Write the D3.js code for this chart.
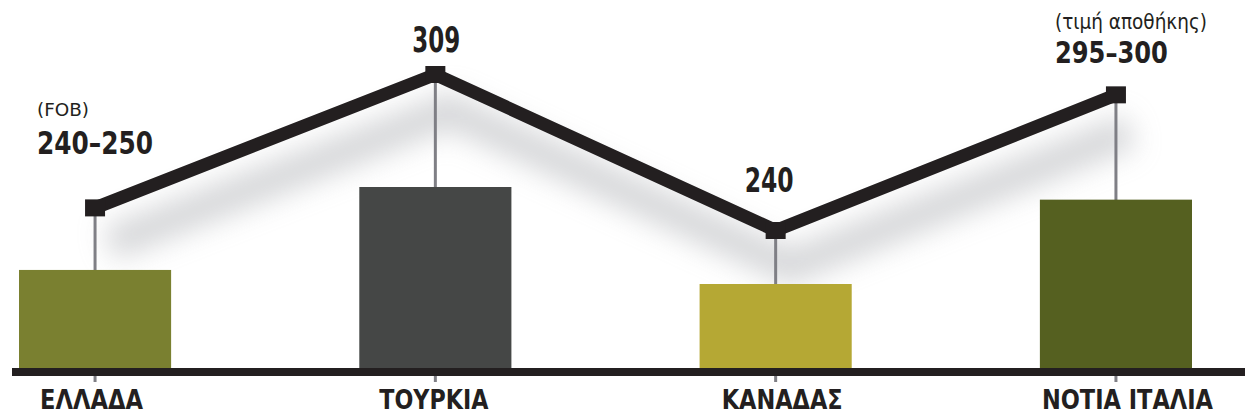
<!DOCTYPE html>
<html>
<head>
<meta charset="utf-8">
<script src="https://cdn.jsdelivr.net/npm/d3@7"></script>
<style>
  html, body { margin: 0; padding: 0; background: #fff; }
  svg { display: block; }
  text { font-family: "DejaVu Sans Condensed", "DejaVu Sans", sans-serif; fill: #231f20; }
</style>
</head>
<body>
<div id="chart-container"></div>
<script>
// data
var categories = ["ΕΛΛΑΔΑ", "ΤΟΥΡΚΙΑ", "ΚΑΝΑΔΑΣ", "ΝΟΤΙΑ ΙΤΑΛΙΑ"];
var prices = [250, 309, 240, 300];
var priceLabels = ["240–250", "309", "240", "295–300"];
var priceNotes = ["(FOB)", "", "", "(τιμή αποθήκης)"];
var barColors = ["#7a8030", "#454746", "#b5a834", "#556020"];

var width = 1245, height = 415;
var baseY = 368;

// label placement relative to each point (font is squeezed to the given length)
var labelLayout = [
    {dx: -58, dy: -54,   size: 31.5, len: 116, noteDy: -92, noteSize: 17, noteLen: 52},
    {dx: -23, dy: -22.5, size: 35.5, len: 48},
    {dx: -31, dy: -38.5, size: 33,   len: 49},
    {dx: -61, dy: -32,   size: 29.5, len: 113, noteDy: -66, noteSize: 21, noteLen: 152}
];
var catLayout = [
    {dx: -55, len: 103},
    {dx: -56, len: 109},
    {dx: -54, len: 121},
    {dx: -74, len: 171}
];

var svg = d3.select("#chart-container")
    .append("svg")
    .attr("width", width)
    .attr("height", height);

var defs = svg.append("defs");
defs.append("filter")
    .attr("id", "soft")
    .attr("x", "-20%").attr("y", "-60%")
    .attr("width", "140%").attr("height", "220%")
    .append("feGaussianBlur")
    .attr("stdDeviation", 14);

var x = d3.scaleBand()
    .domain(categories)
    .range([19, 1192])
    .paddingInner(0.553)
    .paddingOuter(0);

var yLine = d3.scaleLinear()
    .domain([240, 309])
    .range([230.5, 74.5]);

var yBar = d3.scaleLinear()
    .domain([240, 309])
    .range([284, 187]);

var data = categories.map(function(c, i) {
    return {cat: c, value: prices[i], label: priceLabels[i], note: priceNotes[i], color: barColors[i], i: i};
});

function cx(d) { return x(d.cat) + x.bandwidth() / 2; }

var line = d3.line()
    .x(function(d) { return cx(d); })
    .y(function(d) { return yLine(d.value); });

// shadow under the line
svg.append("path")
    .datum(data)
    .attr("d", line)
    .attr("fill", "none")
    .attr("stroke", "#b4b6ba")
    .attr("stroke-width", 34)
    .attr("opacity", 0.55)
    .attr("transform", "translate(14,36)")
    .attr("filter", "url(#soft)");

// stems
svg.selectAll("line.stem")
    .data(data)
    .enter().append("line")
    .attr("class", "stem")
    .attr("x1", cx).attr("x2", cx)
    .attr("y1", function(d) { return yLine(d.value); })
    .attr("y2", baseY + 14)
    .attr("stroke", "#7f7f85")
    .attr("stroke-width", 3);

// bars
svg.selectAll("rect.bar")
    .data(data)
    .enter().append("rect")
    .attr("class", "bar")
    .attr("x", function(d) { return x(d.cat); })
    .attr("y", function(d) { return yBar(d.value); })
    .attr("width", x.bandwidth())
    .attr("height", function(d) { return baseY - yBar(d.value); })
    .attr("fill", function(d) { return d.color; });

// base line
svg.append("rect")
    .attr("x", 12).attr("y", baseY)
    .attr("width", width - 12).attr("height", 8)
    .attr("fill", "#231f20");

// price line
svg.append("path")
    .datum(data)
    .attr("d", line)
    .attr("fill", "none")
    .attr("stroke", "#231f20")
    .attr("stroke-width", 13)
    .attr("stroke-linejoin", "miter");

svg.selectAll("rect.marker")
    .data(data)
    .enter().append("rect")
    .attr("class", "marker")
    .attr("x", function(d) { return cx(d) - 10; })
    .attr("y", function(d) { return yLine(d.value) - 8.5; })
    .attr("width", 20).attr("height", 17)
    .attr("fill", "#231f20");

// value labels
svg.selectAll("text.value")
    .data(data)
    .enter().append("text")
    .attr("class", "value")
    .attr("x", function(d) { return cx(d) + labelLayout[d.i].dx; })
    .attr("y", function(d) { return yLine(d.value) + labelLayout[d.i].dy; })
    .attr("font-size", function(d) { return labelLayout[d.i].size; })
    .attr("textLength", function(d) { return labelLayout[d.i].len; })
    .attr("lengthAdjust", "spacingAndGlyphs")
    .attr("font-weight", "bold")
    .text(function(d) { return d.label; });

svg.selectAll("text.note")
    .data(data.filter(function(d) { return d.note; }))
    .enter().append("text")
    .attr("class", "note")
    .attr("x", function(d) { return cx(d) + labelLayout[d.i].dx; })
    .attr("y", function(d) { return yLine(d.value) + labelLayout[d.i].noteDy; })
    .attr("font-size", function(d) { return labelLayout[d.i].noteSize; })
    .attr("textLength", function(d) { return labelLayout[d.i].noteLen; })
    .attr("lengthAdjust", "spacingAndGlyphs")
    .text(function(d) { return d.note; });

// category labels
svg.selectAll("text.cat")
    .data(data)
    .enter().append("text")
    .attr("class", "cat")
    .attr("x", function(d) { return cx(d) + catLayout[d.i].dx; })
    .attr("y", 409)
    .attr("font-size", 26)
    .attr("textLength", function(d) { return catLayout[d.i].len; })
    .attr("lengthAdjust", "spacingAndGlyphs")
    .attr("font-weight", "bold")
    .text(function(d) { return d.cat; });
</script>
</body>
</html>
